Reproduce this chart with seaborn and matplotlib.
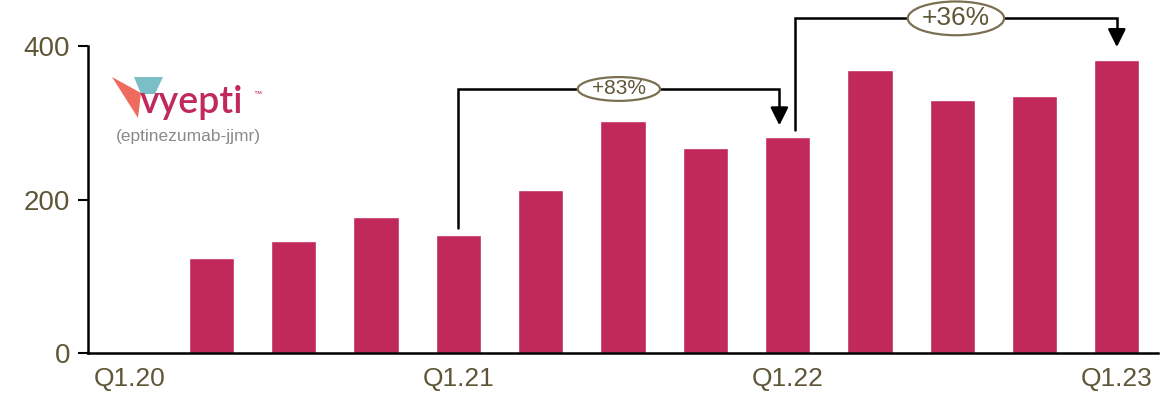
import matplotlib
matplotlib.use("Agg")
import matplotlib.pyplot as plt
import matplotlib.transforms as mtransforms
from matplotlib.patches import Ellipse, Polygon
import seaborn as sns
import pandas as pd

quarters = ["Q1.20", "Q2.20", "Q3.20", "Q4.20", "Q1.21", "Q2.21", "Q3.21",
            "Q4.21", "Q1.22", "Q2.22", "Q3.22", "Q4.22", "Q1.23"]
sales = [0, 124, 146, 177, 154, 212, 302, 267, 281, 369, 330, 335, 382]
shown_labels = ["Q1.20", "Q1.21", "Q1.22", "Q1.23"]
yticks = [0, 200, 400]
growth_1 = ("Q1.21", "Q1.22", "+83%")
growth_2 = ("Q1.22", "Q1.23", "+36%")

BAR = "#C0295A"
TXT = "#5F5637"
OLIVE = "#7A7050"

sns.set_theme(style="white")
plt.rcParams["font.family"] = ["Liberation Sans", "DejaVu Sans"]

fig = plt.figure(figsize=(11.68, 3.94), dpi=100)
ax = fig.add_axes([88 / 1168, 1 - 353 / 394, (1158 - 88) / 1168, (353 - 46) / 394])

df = pd.DataFrame({"q": quarters, "v": sales})
sns.barplot(data=df, x="q", y="v", color=BAR, saturation=1, width=0.55, ax=ax)

ax.set_ylim(0, 400)
ax.set_xlim(-0.5, len(quarters) - 0.5)
ax.set_yticks(yticks)
ax.set_yticklabels([str(t) for t in yticks], fontsize=20, color=TXT)
ax.set_xticks([quarters.index(q) for q in shown_labels])
ax.set_xticklabels(shown_labels, fontsize=19, color=TXT)
ax.set_xlabel("")
ax.set_ylabel("")
for s in ["top", "right"]:
    ax.spines[s].set_visible(False)
for s in ["left", "bottom"]:
    ax.spines[s].set_color("black")
    ax.spines[s].set_linewidth(1.8)
ax.tick_params(axis="y", left=True, length=7, width=1.5, color="black", pad=6)
ax.tick_params(axis="x", bottom=False, pad=4)


def bracket(a, b, label, y_top, x_off_a, x_off_b, gap_a, gap_b, ell_w, ell_h, fs):
    ia, ib = quarters.index(a), quarters.index(b)
    xa, xb = ia + x_off_a, ib + x_off_b
    ya = sales[ia] + gap_a
    yb = sales[ib] + gap_b
    ax.plot([xa, xa, xb, xb], [ya, y_top, y_top, yb + 14], color="black",
            lw=1.8, clip_on=False, solid_joinstyle="miter", zorder=3)
    ax.annotate("", xy=(xb, yb), xytext=(xb, yb + 16),
                arrowprops=dict(arrowstyle="-|>,head_length=0.9,head_width=0.45",
                                color="black", lw=1.8),
                annotation_clip=False, zorder=4)
    xm = (xa + xb) / 2
    e = Ellipse((xm, y_top), ell_w, ell_h, facecolor="white", edgecolor=OLIVE,
                lw=1.6, clip_on=False, zorder=5)
    ax.add_patch(e)
    ax.text(xm, y_top, label, ha="center", va="center", fontsize=fs,
            color=TXT, zorder=6, clip_on=False)


bracket(*growth_1, y_top=344, x_off_a=0, x_off_b=-0.1, gap_a=9, gap_b=12,
        ell_w=1.0, ell_h=31, fs=15)
bracket(*growth_2, y_top=436, x_off_a=0.09, x_off_b=0, gap_a=9, gap_b=13,
        ell_w=1.17, ell_h=44, fs=19)

# logo (decorative)
px = mtransforms.Affine2D().scale(1 / 1168, -1 / 394).translate(0, 1) + fig.transFigure
fig.patches.append(Polygon([(112, 77), (141, 93), (138, 118)], closed=True,
                           facecolor="#EE6B5E", edgecolor="none", transform=px))
fig.patches.append(Polygon([(134, 77), (163, 77), (155, 94), (141, 94)], closed=True,
                           facecolor="#7BBFC6", edgecolor="none", transform=px))
fig.text(140 / 1168, 1 - 113 / 394, "vyepti", fontsize=27, color=BAR,
         fontweight="semibold", ha="left", va="baseline", family=["Lato", "DejaVu Sans"])
fig.text(253 / 1168, 1 - 96 / 394, "™", fontsize=6, color=BAR, ha="left", va="baseline")
fig.text(116 / 1168, 1 - 141 / 394, "(eptinezumab-jjmr)", fontsize=12.5, color="#8A8A8A",
         ha="left", va="baseline")

fig.savefig("out.png", dpi=100)
